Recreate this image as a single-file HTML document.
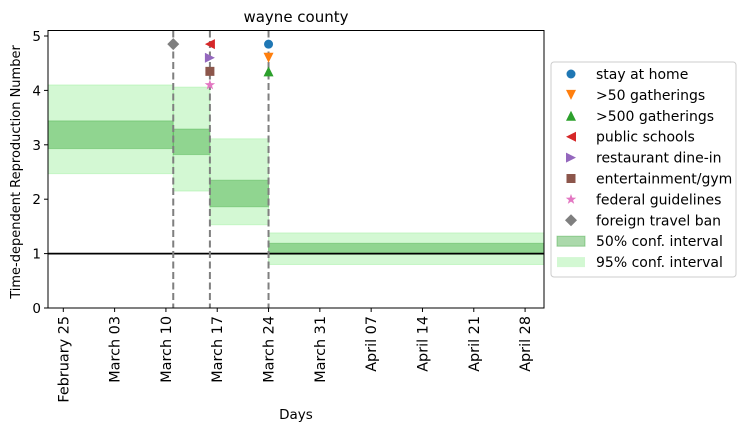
<!DOCTYPE html>
<html><head><meta charset="utf-8"><style>
body{margin:0;background:#fff;}
svg{display:block;font-family:"DejaVu Sans","Liberation Sans",sans-serif;}
</style></head><body>
<svg id="chart" width="746" height="432"></svg>
<script>
// data (days since Feb 25)
const segStarts = [-2.1, 15, 20, 28];
const segEnds = [15, 20, 28, 65.6];
const ci50Low = [2.93, 2.82, 1.86, 0.99];
const ci50High = [3.44, 3.29, 2.35, 1.19];
const ci95Low = [2.47, 2.15, 1.53, 0.80];
const ci95High = [4.10, 4.06, 3.11, 1.38];
const interventionDays = [15, 20, 28];
const markerNames = ["stay at home", ">50 gatherings", ">500 gatherings", "public schools", "restaurant dine-in", "entertainment/gym", "federal guidelines", "foreign travel ban"];
const markerDays = [28, 28, 28, 20, 20, 20, 20, 15];
const markerValues = [4.85, 4.6, 4.35, 4.85, 4.6, 4.35, 4.1, 4.85];
const xTickDays = [0, 7, 14, 21, 28, 35, 42, 49, 56, 63];
const xTickLabels = ["February 25", "March 03", "March 10", "March 17", "March 24", "March 31", "April 07", "April 14", "April 21", "April 28"];
const yTicks = [0, 1, 2, 3, 4, 5];

const NS = "http://www.w3.org/2000/svg";
const svg = document.getElementById("chart");
const L = 48, R = 544, T = 30.5, B = 308;
const x = d => 63.3 + d * 7.33;
const y = v => 308 - v * 54.4;
function mk(tag, attrs, parent) {
  const e = document.createElementNS(NS, tag);
  for (const k in attrs) e.setAttribute(k, attrs[k]);
  (parent || svg).appendChild(e);
  return e;
}
const colors = ["#1f77b4", "#ff7f0e", "#2ca02c", "#d62728", "#9467bd", "#8c564b", "#e377c2", "#7f7f7f"];
function marker(i, cx, cy, parent) {
  let e;
  const s = 5;
  if (i === 0) e = mk("circle", {cx, cy, r: 4.5, fill: colors[i]}, parent);
  else if (i === 1) e = mk("polygon", {points: `${cx-s},${cy-s} ${cx+s},${cy-s} ${cx},${cy+s}`, fill: colors[i]}, parent);
  else if (i === 2) e = mk("polygon", {points: `${cx-s},${cy+s} ${cx+s},${cy+s} ${cx},${cy-s}`, fill: colors[i]}, parent);
  else if (i === 3) e = mk("polygon", {points: `${cx+s},${cy-s} ${cx+s},${cy+s} ${cx-s},${cy}`, fill: colors[i]}, parent);
  else if (i === 4) e = mk("polygon", {points: `${cx-s},${cy-s} ${cx-s},${cy+s} ${cx+s},${cy}`, fill: colors[i]}, parent);
  else if (i === 5) e = mk("rect", {x: cx-4.5, y: cy-4.5, width: 9, height: 9, fill: colors[i]}, parent);
  else if (i === 6) {
    let p = [];
    for (let k = 0; k < 10; k++) { const a = -Math.PI/2 + k*Math.PI/5, r = k%2 ? 2.2 : 5.5; p.push((cx+r*Math.cos(a)).toFixed(2)+","+(cy+r*Math.sin(a)).toFixed(2)); }
    e = mk("polygon", {points: p.join(" "), fill: colors[i]}, parent);
  } else e = mk("polygon", {points: `${cx},${cy-6} ${cx+6},${cy} ${cx},${cy+6} ${cx-6},${cy}`, fill: colors[i]}, parent);
  return e;
}
mk("defs", {}).innerHTML = `<clipPath id="pc"><rect x="${L}" y="${T}" width="${R-L}" height="${B-T}"/></clipPath>`;
const plot = mk("g", {"clip-path": "url(#pc)"});


for (let i = 0; i < segStarts.length; i++) {
  const r95 = mk("rect", {x: x(segStarts[i]), y: y(ci95High[i]), width: x(segEnds[i]) - x(segStarts[i]), height: y(ci95Low[i]) - y(ci95High[i]), fill: "#90ee90", "fill-opacity": 0.4, stroke: "#90ee90", "stroke-opacity": 0.4}, plot);
  
  
  const r50 = mk("rect", {x: x(segStarts[i]), y: y(ci50High[i]), width: x(segEnds[i]) - x(segStarts[i]), height: y(ci50Low[i]) - y(ci50High[i]), fill: "#2ca02c", "fill-opacity": 0.4, stroke: "#2ca02c", "stroke-opacity": 0.3}, plot);
  
  
}
const ref = mk("line", {x1: L, x2: R, y1: y(1), y2: y(1), stroke: "#000", "stroke-width": 1.8}, plot);


for (const d of interventionDays) {
  const l = mk("line", {x1: x(d), x2: x(d), y1: T, y2: B, stroke: "#7f7f7f", "stroke-width": 2, "stroke-dasharray": "7,3.5"}, plot);
  
  
}
for (let i = 0; i < markerNames.length; i++) {
  const m = marker(i, x(markerDays[i]), y(markerValues[i]), svg);
  
  
}
const frame = mk("rect", {x: L, y: T, width: R-L, height: B-T, fill: "none", stroke: "#000", "stroke-width": 1});


for (const v of yTicks) {
  mk("line", {x1: L-4, x2: L, y1: y(v), y2: y(v), stroke: "#000"});
  const t = mk("text", {x: L-7, y: y(v)+5, "text-anchor": "end", "font-size": 13.5}); t.textContent = v;
  
  
}
for (let i = 0; i < xTickDays.length; i++) {
  const xx = x(xTickDays[i]);
  mk("line", {x1: xx, x2: xx, y1: B, y2: B+4, stroke: "#000"});
  const t = mk("text", {x: xx+5, y: B+8, "text-anchor": "end", "font-size": 14.4, transform: `rotate(-90 ${xx+5} ${B+8})`}); t.textContent = xTickLabels[i];
  
  
}
const title = mk("text", {x: (L+R)/2, y: 22, "text-anchor": "middle", "font-size": 15}); title.textContent = "wayne county";


const xt = mk("text", {x: (L+R)/2, y: 419, "text-anchor": "middle", "font-size": 13.5}); xt.textContent = "Days";


const yt = mk("text", {x: 20, y: 172, "text-anchor": "middle", "font-size": 13, transform: "rotate(-90 20 172)"}); yt.textContent = "Time-dependent Reproduction Number";


// legend
const lg = mk("g", {});


mk("rect", {x: 551, y: 62, width: 185, height: 215, rx: 3, fill: "#fff", stroke: "#ccc"}, lg);
const labels = markerNames.concat(["50% conf. interval", "95% conf. interval"]);
for (let i = 0; i < labels.length; i++) {
  const cy = 74 + i * 20.9;
  if (i < 8) marker(i, 571, cy, lg);
  else if (i === 8) mk("rect", {x: 557, y: cy-5, width: 28, height: 10, fill: "#2ca02c", "fill-opacity": 0.4, stroke: "#2ca02c", "stroke-opacity": 0.4}, lg);
  else mk("rect", {x: 557, y: cy-5, width: 28, height: 10, fill: "#90ee90", "fill-opacity": 0.4}, lg);
  const t = mk("text", {x: 596, y: cy+5, "font-size": 14}, lg); t.textContent = labels[i];
  
  
}
</script>
</body></html>
